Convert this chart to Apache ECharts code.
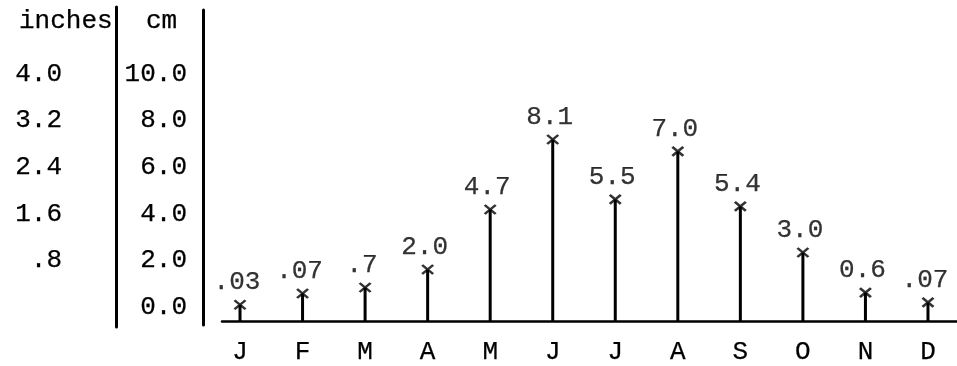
<!DOCTYPE html>
<html>
<head>
<meta charset="utf-8">
<script src="https://cdn.jsdelivr.net/npm/echarts@6/dist/echarts.min.js"></script>
<style>
  html, body { margin: 0; padding: 0; background: #fff; }
  #chart { width: 957px; height: 366px; }
</style>
</head>
<body>
<div id="chart"></div>
<script>
// ---- data ----
const months = ['J', 'F', 'M', 'A', 'M', 'J', 'J', 'A', 'S', 'O', 'N', 'D'];
// heights of the drawn stems, read in cm from the picture
const heightsCm = [0.72, 1.2, 1.46, 2.23, 4.81, 7.81, 5.24, 7.30, 4.94, 2.96, 1.24, 0.82];
// typed value labels above each stem
const valueLabels = ['.03', '.07', '.7', '2.0', '4.7', '8.1', '5.5', '7.0', '5.4', '3.0', '0.6', '.07'];
// typed tick labels
const cmTicks = [0, 2, 4, 6, 8, 10];
const inchTicks = [0.8, 1.6, 2.4, 3.2, 4.0];

// ---- styling ----
const FONT = '"Liberation Mono", "DejaVu Sans Mono", monospace';
const FS = 26;
const INK = '#000';
const TXT = { fontFamily: FONT, fontSize: FS, color: INK, textBorderColor: INK, textBorderWidth: 0.25 };

const monthIdx = months.map((m, i) => i);
const points = heightsCm.map((h, i) => [monthIdx[i], h]);

const chart = echarts.init(document.getElementById('chart'), null, { renderer: 'canvas' });

const option = {
  backgroundColor: '#fff',
  animation: false,
  title: [
    { text: 'inches', left: 19, top: 8, padding: 0,
      textStyle: Object.assign({ fontWeight: 'normal' }, TXT) },
    { text: 'cm', left: 146, top: 8, padding: 0,
      textStyle: Object.assign({ fontWeight: 'normal' }, TXT) }
  ],
  grid: [
    { left: 222, right: 0, top: 321.5 - 13 * 23.3, bottom: 366 - 321.5 },   // plot
    { left: 203, width: 10, top: 10, bottom: 366 - 325 },                   // cm column
    { left: 116, width: 10, top: 7, bottom: 366 - 327 }                     // inches column
  ],
  xAxis: [
    {
      gridIndex: 0, type: 'value',
      min: -(240 - 222) / 62.5, max: 11 + (957 - 928) / 62.5,
      axisLine: { show: true, lineStyle: { color: INK, width: 2.5 } },
      axisTick: { show: false },
      splitLine: { show: false },
      axisLabel: Object.assign({
        customValues: monthIdx, margin: 18,
        formatter: v => months[Math.round(v)]
      }, TXT)
    },
    { gridIndex: 1, type: 'value', show: false },
    { gridIndex: 2, type: 'value', show: false }
  ],
  yAxis: [
    { gridIndex: 0, type: 'value', min: 0, max: 13, show: false },
    {
      gridIndex: 1, type: 'value', position: 'left',
      min: -(325 - 307) / 23.3, max: (307 - 10) / 23.3,
      axisLine: { show: true, lineStyle: { color: INK, width: 3 } },
      axisTick: { show: false },
      splitLine: { show: false },
      axisLabel: Object.assign({
        customValues: cmTicks, margin: 16,
        formatter: v => v.toFixed(1)
      }, TXT)
    },
    {
      gridIndex: 2, type: 'value', position: 'left',
      min: -(327 - 307) / 58.25, max: (307 - 7) / 58.25,
      axisLine: { show: true, lineStyle: { color: INK, width: 3 } },
      axisTick: { show: false },
      splitLine: { show: false },
      axisLabel: Object.assign({
        customValues: inchTicks, margin: 54,
        formatter: v => (v < 1 ? v.toFixed(1).replace(/^0/, '') : v.toFixed(1))
      }, TXT)
    }
  ],
  series: [
    {
      type: 'bar', xAxisIndex: 0, yAxisIndex: 0,
      data: points, barWidth: 3,
      itemStyle: { color: INK },
      silent: true
    },
    {
      type: 'scatter', xAxisIndex: 0, yAxisIndex: 0,
      data: points,
      symbol: 'path://M0,0L10,8M10,0L0,8',
      symbolSize: [11, 9],
      itemStyle: { color: INK, borderColor: INK, borderWidth: 2.5 },
      label: Object.assign({
        show: true, position: 'top', distance: 4, offset: [-3, 0],
        formatter: p => valueLabels[p.dataIndex]
      }, TXT),
      silent: true
    }
  ]
};

chart.setOption(option);
</script>
</body>
</html>
